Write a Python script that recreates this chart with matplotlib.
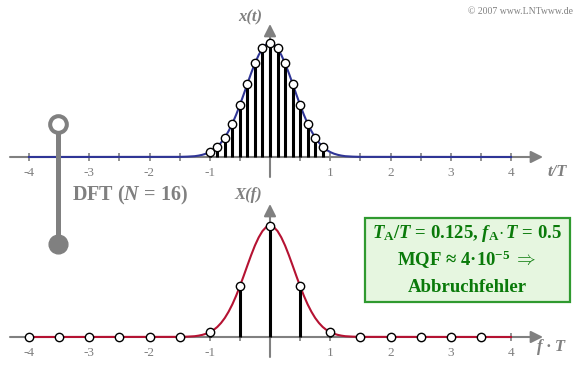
import numpy as np
import matplotlib
matplotlib.use('Agg')
import matplotlib.pyplot as plt
from matplotlib.patches import Rectangle
from matplotlib.lines import Line2D

plt.rcParams['font.family'] = ['Liberation Serif', 'DejaVu Serif']
plt.rcParams['mathtext.fontset'] = 'custom'
plt.rcParams['mathtext.rm'] = 'Liberation Serif'
plt.rcParams['mathtext.it'] = 'Liberation Serif:italic'
plt.rcParams['mathtext.bf'] = 'Liberation Serif:bold'
plt.rcParams['mathtext.bfit'] = 'Liberation Serif:bold:italic'

# samples of x(t) (time domain, T_A/T = 0.125, N = 16)
t_samples = [-1, -0.875, -0.75, -0.625, -0.5, -0.375, -0.25, -0.125,
             0, 0.125, 0.25, 0.375, 0.5, 0.625, 0.75, 0.875]
x_samples = [0.043, 0.090, 0.171, 0.293, 0.456, 0.643, 0.822, 0.952,
             1.0, 0.952, 0.822, 0.643, 0.456, 0.293, 0.171, 0.090]

# DFT samples of X(f) (f_A*T = 0.5)
f_samples = [-4, -3.5, -3, -2.5, -2, -1.5, -1, -0.5,
             0, 0.5, 1, 1.5, 2, 2.5, 3, 3.5]
X_samples = [0, 0, 0, 0, 0, 0, 0.043, 0.456,
             1.0, 0.456, 0.043, 0, 0, 0, 0, 0]

# Gauss curve (right half), mirrored below
half_pos = [0, 0.0625, 0.125, 0.1875, 0.25, 0.3125, 0.375, 0.4375, 0.5,
            0.5625, 0.625, 0.6875, 0.75, 0.8125, 0.875, 0.9375, 1.0,
            1.0625, 1.125, 1.1875, 1.25, 1.375, 1.5, 4]
half_val = [1.0, 0.988, 0.952, 0.895, 0.822, 0.736, 0.643, 0.548, 0.456,
            0.370, 0.293, 0.227, 0.171, 0.126, 0.090, 0.063, 0.043,
            0.029, 0.019, 0.012, 0.007, 0.003, 0.001, 0]
curve_pos = np.concatenate([-np.array(half_pos[::-1]), half_pos[1:]])
curve_val = np.concatenate([half_val[::-1], half_val[1:]])

tick_pos = [-4, -3.5, -3, -2.5, -2, -1.5, -1, -0.5, 0.5, 1, 1.5, 2, 2.5, 3, 3.5, 4]
label_pos = [-4, -3, -2, -1, 1, 2, 3, 4]
label_txt = ['-4', '-3', '-2', '-1', '1', '2', '3', '4']

GRAY = '#808080'
BLUE = '#2f3596'
RED = '#b51232'
W, H = 581, 365

fig = plt.figure(figsize=(W / 100, H / 100), dpi=100)

def fx(x):
    return x / W

def fy(y):
    return 1 - y / H

# pixel geometry of the two panels
x0_px, unit_px = 270, 60.25
xl = ((0 - x0_px) / unit_px, (W - x0_px) / unit_px)


def panel(rect, base_px, amp_px, top_px, bot_px, vtop_px, vbot_px,
          color, sx, sy):
    ax = fig.add_axes(rect)
    ax.set_xlim(*xl)
    ax.set_ylim((base_px - bot_px) / amp_px, (base_px - top_px) / amp_px)
    ax.axis('off')
    arrow = dict(arrowstyle='-|>,head_length=0.6,head_width=0.3',
                 color=GRAY, lw=1.5, mutation_scale=12, shrinkA=0, shrinkB=0)
    ax.annotate('', xy=((543 - x0_px) / unit_px, 0),
                xytext=((10 - x0_px) / unit_px, 0), arrowprops=arrow, zorder=1)
    ax.annotate('', xy=(0, (base_px - vtop_px) / amp_px),
                xytext=(0, (base_px - vbot_px) / amp_px), arrowprops=arrow, zorder=1)
    ax.plot(tick_pos, np.zeros(len(tick_pos)), ls='', marker='|', ms=6,
            mew=1.2, color=GRAY, zorder=1)
    for p, s in zip(label_pos, label_txt):
        ax.text(p, -16 / amp_px, s, ha='center', va='center', color=GRAY,
                fontsize=9.5)
    ax.plot(curve_pos, curve_val, color=color, lw=1.5, zorder=2)
    ax.vlines(sx, 0, sy, color='black', lw=2.2, zorder=3)
    ax.plot(sx, sy, ls='', marker='o', ms=6, mfc='white', mec='black',
            mew=1, zorder=4, clip_on=False)
    return ax


split = 182
panel([0, 1 - split / H, 1, split / H], 157, 114, 0, split, 24, 177,
      BLUE, t_samples, x_samples)
panel([0, 0, 1, 1 - split / H], 337, 111.3, split, H, 204, 357,
      RED, f_samples, X_samples)

# axis labels
lab = dict(color=GRAY, fontsize=12, fontweight='bold', style='italic',
           ha='center', va='center')
fig.text(fx(250), fy(17), 'x(t)', **lab)
fig.text(fx(557), fy(172), 't/T', **lab)
fig.text(fx(248), fy(195), 'X(f)', **lab)
fig.text(fx(551), fy(347), 'f · T', **lab)
fig.text(fx(573), fy(12), '© 2007 www.LNTwww.de', color=GRAY, fontsize=7,
         ha='right', va='center')

# DFT symbol
fig.add_artist(Line2D([fx(58), fx(58)], [fy(124), fy(244)], color=GRAY, lw=3.6,
                      transform=fig.transFigure, solid_capstyle='butt'))
fig.add_artist(Line2D([fx(58)], [fy(124)], ls='', marker='o', ms=12, mfc='white',
                      mec=GRAY, mew=2.9, transform=fig.transFigure))
fig.add_artist(Line2D([fx(58)], [fy(244)], ls='', marker='o', ms=13.5, mfc=GRAY,
                      mec=GRAY, transform=fig.transFigure))
fig.text(fx(72), fy(195), 'DFT ($\\mathbfit{N}$ = 16)', color=GRAY, fontsize=14.5,
         fontweight='bold', ha='left', va='center')

# info box
fig.add_artist(Rectangle((fx(365), fy(302)), (570 - 365) / W, (302 - 218) / H,
                         transform=fig.transFigure, facecolor='#e6f6e0',
                         edgecolor='#2f9a2f', lw=1.6))
box = dict(color='#0a7a0a', fontsize=13.5, fontweight='bold', ha='center',
           va='center')
fig.text(fx(467), fy(233),
         '$\\mathbfit{T}_{\\mathbf{A}}$/$\\mathbfit{T}$ = 0.125, '
         '$\\mathbfit{f}_{\\mathbf{A}}\\mathbf{\\cdot}\\,\\mathbfit{T}$ = 0.5', **box)
fig.text(fx(467), fy(260), 'MQF ≈ 4·10$^{\\mathbf{-5}}$ $\\Rightarrow$', **box)
fig.text(fx(467), fy(287), 'Abbruchfehler', **box)

fig.savefig('out.png', dpi=100)
